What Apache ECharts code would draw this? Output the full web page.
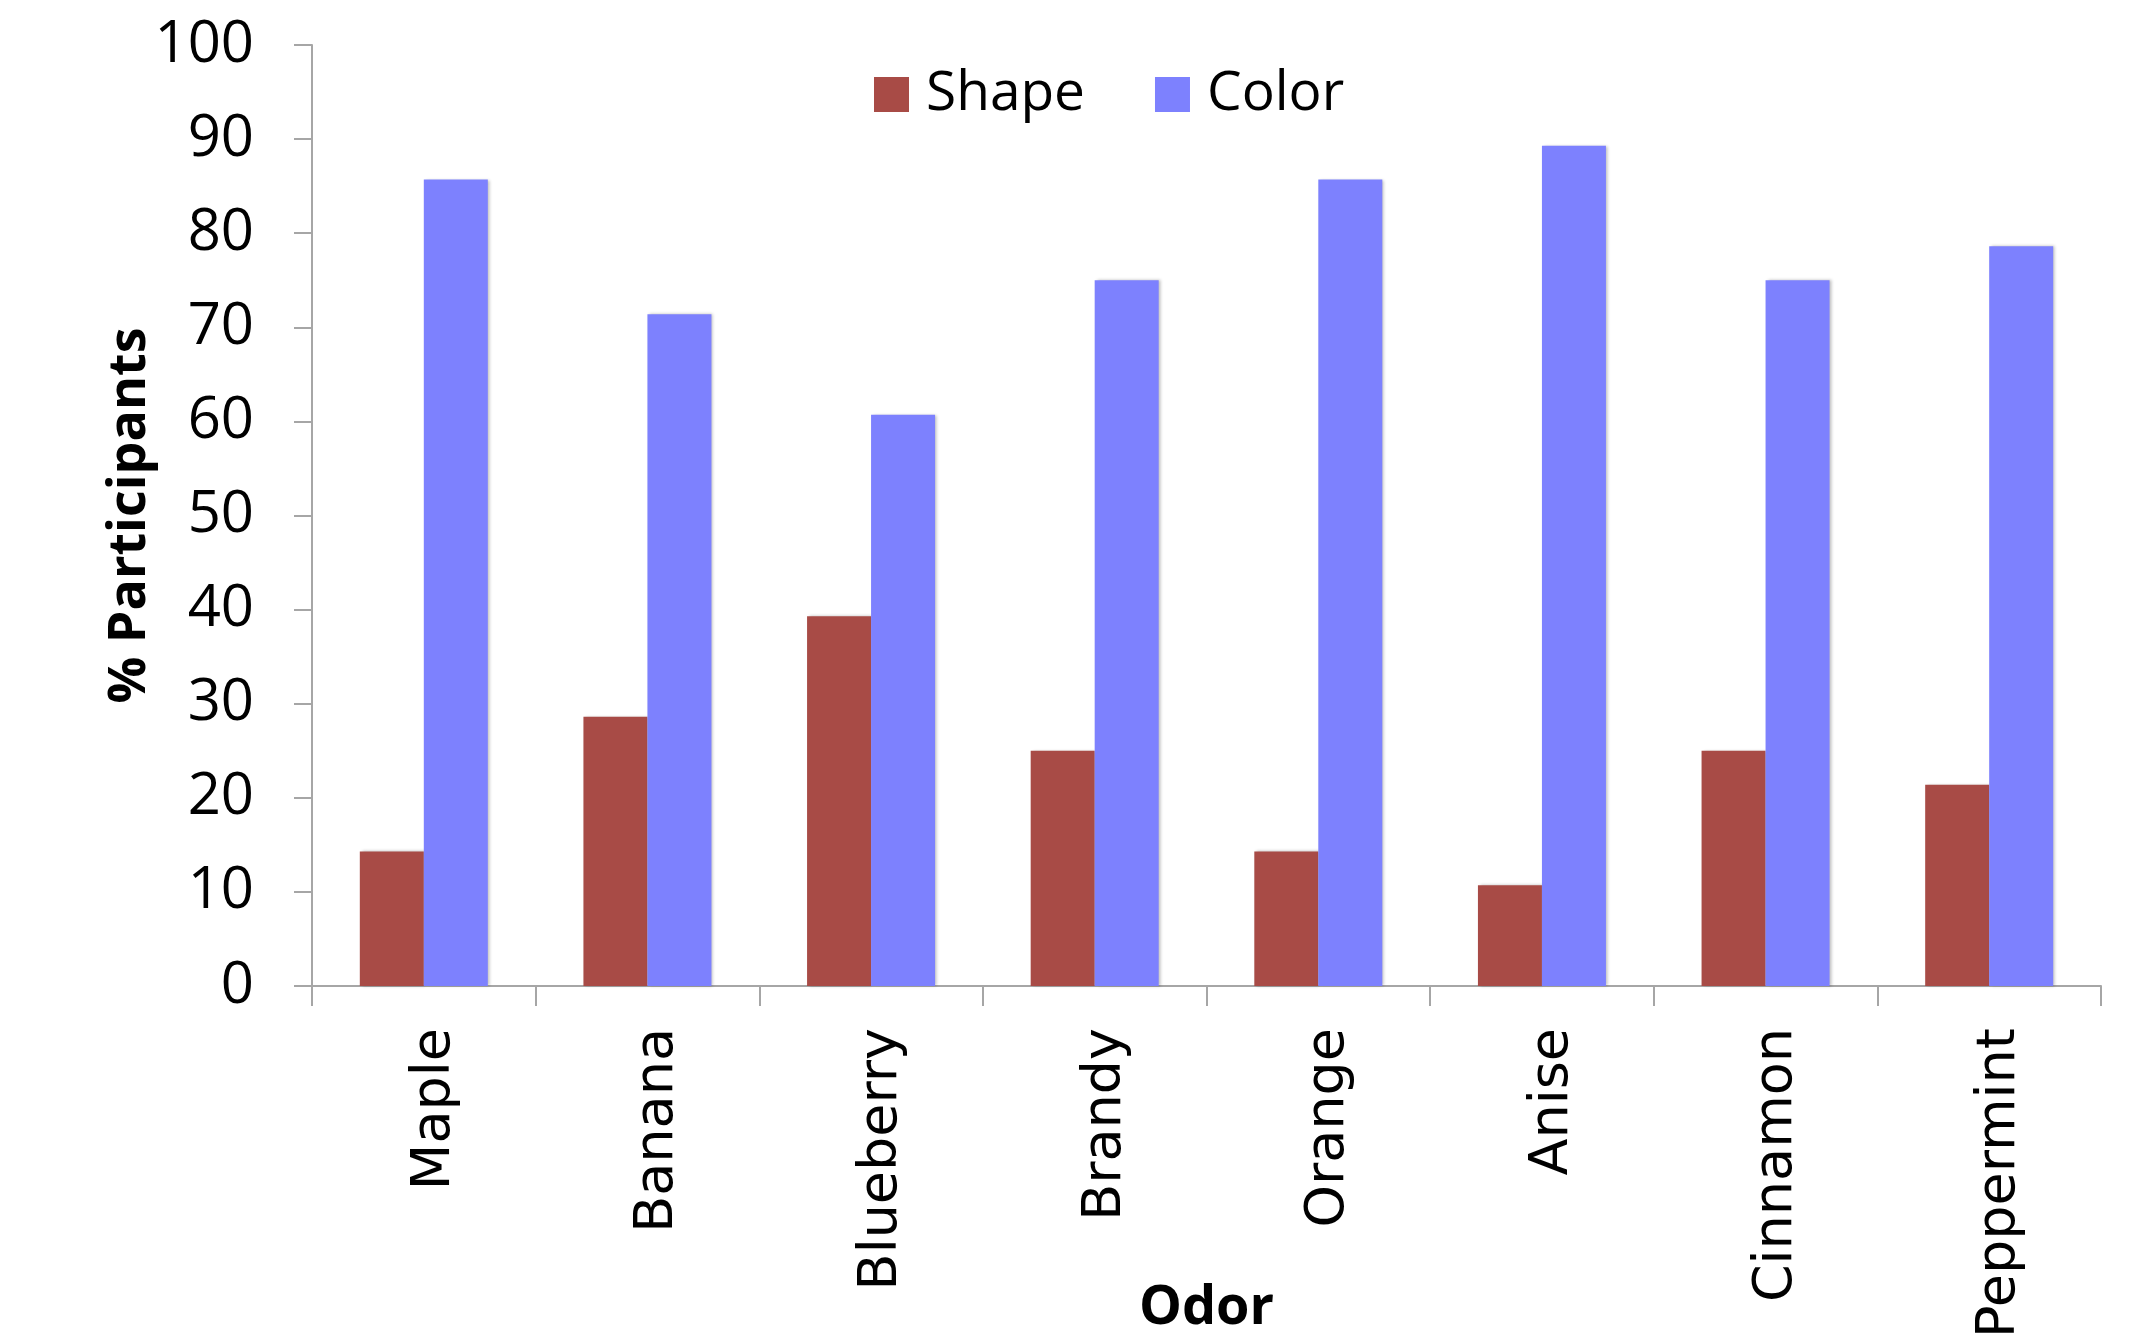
<!DOCTYPE html>
<html>
<head>
<meta charset="utf-8">
<script src="https://cdn.jsdelivr.net/npm/echarts@6/dist/echarts.min.js"></script>
<style>
  html, body { margin: 0; padding: 0; background: #ffffff; }
  #chart { width: 2139px; height: 1335px; }
</style>
</head>
<body>
<div id="chart"></div>
<script>
// Odor categories and the share of participants associating each with shape or color
const odors = ['Maple', 'Banana', 'Blueberry', 'Brandy', 'Orange', 'Anise', 'Cinnamon', 'Peppermint'];
const shapeValues = [14.3, 28.6, 39.3, 25.0, 14.3, 10.7, 25.0, 21.4];
const colorValues = [85.7, 71.4, 60.7, 75.0, 85.7, 89.3, 75.0, 78.6];
const yTicks = [0, 10, 20, 30, 40, 50, 60, 70, 80, 90, 100];

const axisGrey = '#a6a6a6';
const numFont = '"Open Sans", "Liberation Sans", sans-serif';
const catFont = '"DejaVu Sans", Verdana, sans-serif';

const chart = echarts.init(document.getElementById('chart'));

const barShadow = {
  shadowColor: 'rgba(0,0,0,0.25)',
  shadowBlur: 3,
  shadowOffsetX: 2,
  shadowOffsetY: 0
};

chart.setOption({
  animation: false,
  backgroundColor: '#ffffff',
  grid: { left: 312, right: 38, top: 45, bottom: 349, containLabel: false, outerBoundsMode: 'none' },
  legend: {
    left: 869,
    top: 62,
    itemWidth: 35,
    itemHeight: 35,
    itemGap: 70,
    icon: 'rect',
    textStyle: {
      fontFamily: numFont,
      fontSize: 55,
      color: '#000000',
      padding: [0, 0, 0, 12]
    },
    data: ['Shape', 'Color']
  },
  xAxis: {
    type: 'category',
    data: odors,
    name: 'Odor',
    nameLocation: 'middle',
    nameGap: 296,
    nameMoveOverlap: false,
    nameTextStyle: { fontFamily: numFont, fontSize: 54, fontWeight: 'bold', color: '#000000' },
    axisLine: { lineStyle: { color: axisGrey, width: 2 } },
    axisTick: { show: true, length: 20, lineStyle: { color: axisGrey, width: 2 } },
    axisLabel: {
      rotate: 90,
      margin: 42,
      verticalAlign: 'top',
      lineHeight: 22,
      fontFamily: catFont,
      fontSize: 54,
      color: '#000000'
    },
    splitLine: { show: false }
  },
  yAxis: {
    type: 'value',
    min: yTicks[0],
    max: yTicks[yTicks.length - 1],
    interval: yTicks[1] - yTicks[0],
    name: '% Participants',
    nameLocation: 'middle',
    nameGap: 156,
    nameRotate: 90,
    nameMoveOverlap: false,
    nameTextStyle: { fontFamily: numFont, fontSize: 52, fontWeight: 'bold', color: '#000000' },
    axisLine: { show: true, lineStyle: { color: axisGrey, width: 2 } },
    axisTick: { show: true, length: 18, lineStyle: { color: axisGrey, width: 2 } },
    axisLabel: {
      margin: 58,
      fontFamily: numFont,
      fontSize: 58,
      color: '#000000'
    },
    splitLine: { show: false }
  },
  series: [
    {
      name: 'Shape',
      type: 'bar',
      data: shapeValues,
      barWidth: 64,
      barGap: '0%',
      itemStyle: Object.assign({ color: '#a84b46' }, barShadow)
    },
    {
      name: 'Color',
      type: 'bar',
      data: colorValues,
      barWidth: 64,
      barGap: '0%',
      itemStyle: Object.assign({ color: '#7d81fe' }, barShadow)
    }
  ]
});
</script>
</body>
</html>
